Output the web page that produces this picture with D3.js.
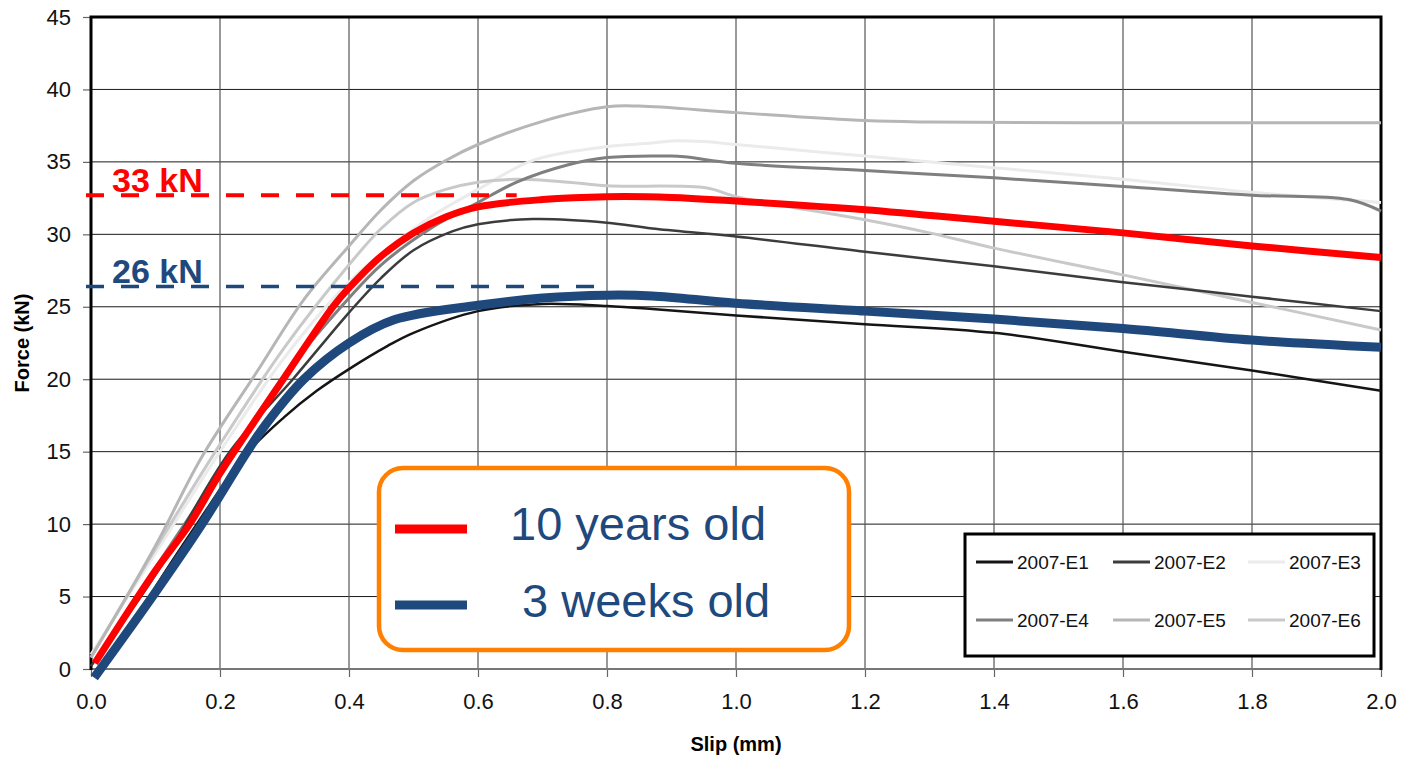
<!DOCTYPE html>
<html>
<head>
<meta charset="utf-8">
<script src="https://cdnjs.cloudflare.com/ajax/libs/d3/7.8.5/d3.min.js"></script>
<style>
body { margin: 0; background: #fff; }
text { font-family: Arial, "Liberation Sans", sans-serif; }
</style>
</head>
<body>
<div id="chart"></div>
<script>
// test curves, [slip mm, force kN]
var e1 = [[0.068,3.0],[0.091,5],[0.164,10],[0.24,14.8],[0.3,17.4],[0.35,19.2],[0.4,20.7],[0.46,22.3],[0.5,23.2],[0.6,24.7],[0.7,25.2],[0.8,25.05],[0.87,24.85],[1.0,24.4],[1.2,23.8],[1.4,23.2],[1.6,21.9],[1.8,20.6],[2.0,19.2]];
var e2 = [[0.0,0.2],[0.1,6.5],[0.215,15],[0.313,20],[0.4,24.6],[0.45,27.0],[0.5,28.9],[0.56,30.2],[0.6,30.7],[0.685,31.05],[0.8,30.8],[0.87,30.4],[1.0,29.85],[1.2,28.8],[1.4,27.8],[1.6,26.7],[1.8,25.7],[2.0,24.7]];
var e3 = [[0.0,1.0],[0.1,8.0],[0.2,15.0],[0.3,21.5],[0.4,26.7],[0.46,29.0],[0.53,31.3],[0.6,33.1],[0.685,35.1],[0.79,36.0],[0.87,36.3],[0.9,36.45],[0.95,36.4],[1.0,36.2],[1.2,35.4],[1.4,34.6],[1.6,33.8],[1.8,32.9],[2.0,32.2]];
var e4 = [[0.005,0.5],[0.1,7],[0.16,11],[0.2,13.6],[0.3,20.3],[0.4,25.6],[0.45,27.9],[0.53,30.5],[0.6,32.2],[0.66,33.6],[0.74,34.8],[0.8,35.3],[0.9,35.4],[0.92,35.35],[1.0,34.9],[1.2,34.4],[1.4,33.9],[1.6,33.3],[1.8,32.7],[1.95,32.4],[2.0,31.6]];
var e5 = [[0.0,0.8],[0.1,8.5],[0.17,14.5],[0.257,20.5],[0.33,25.5],[0.4,29.2],[0.45,31.7],[0.5,33.7],[0.55,35.1],[0.6,36.2],[0.7,37.8],[0.8,38.8],[0.85,38.85],[1.0,38.4],[1.2,37.85],[1.3,37.75],[1.6,37.7],[2.0,37.7]];
var e6 = [[0.0,0.8],[0.1,8.3],[0.2,15.5],[0.3,22.2],[0.4,27.9],[0.45,30.4],[0.5,32.2],[0.55,33.1],[0.6,33.6],[0.66,33.8],[0.74,33.6],[0.8,33.35],[0.955,33.2],[1.0,32.6],[1.2,31.0],[1.3,30.1],[1.4,29.05],[1.6,27.2],[1.8,25.3],[2.0,23.4]];

// mean curves
var tenYears = [[0.006,0.4],[0.1,6.8],[0.153,10],[0.2,13.5],[0.298,20],[0.375,25],[0.4,26.3],[0.45,28.5],[0.5,30.1],[0.55,31.2],[0.6,31.9],[0.7,32.4],[0.8,32.6],[0.9,32.55],[1.0,32.3],[1.2,31.7],[1.4,30.9],[1.6,30.1],[1.8,29.2],[2.0,28.4]];
var threeWeeks = [[0.005,-0.6],[0.1,5.3],[0.172,10],[0.242,15],[0.273,17.0],[0.33,20],[0.4,22.5],[0.47,24.1],[0.6,25.1],[0.7,25.6],[0.8,25.8],[0.87,25.75],[1.0,25.25],[1.2,24.7],[1.4,24.15],[1.6,23.5],[1.8,22.7],[2.0,22.2]];

var peakLabels = ['33 kN', '26 kN'];
var peakValues = [32.7, 26.4];
var peakEnds = [0.66, 0.78];

var grayNames = ['2007-E1', '2007-E2', '2007-E3', '2007-E4', '2007-E5', '2007-E6'];
var grayColors = ['#151515', '#3c3c3c', '#ebebeb', '#7f7f7f', '#b6b6b6', '#c9c9c9'];
var grayWidths = [2.5, 2.5, 3, 3, 3, 3];

var xTicks = [0, 0.2, 0.4, 0.6, 0.8, 1.0, 1.2, 1.4, 1.6, 1.8, 2.0];
var yTicks = [0, 5, 10, 15, 20, 25, 30, 35, 40, 45];

var svg = d3.select('#chart')
    .append('svg')
    .attr('width', 1401)
    .attr('height', 757);

var x = d3.scaleLinear().domain([0, 2]).range([91, 1381]);
var y = d3.scaleLinear().domain([0, 45]).range([669, 17]);

// grid
svg.selectAll('.hgrid')
    .data(yTicks.slice(1, -1))
    .enter()
    .append('line')
    .attr('x1', 91).attr('x2', 1381)
    .attr('y1', function(d) { return y(d); })
    .attr('y2', function(d) { return y(d); })
    .style('stroke', '#1a1a1a')
    .style('stroke-width', 1);

svg.selectAll('.vgrid')
    .data(xTicks.slice(1, -1))
    .enter()
    .append('line')
    .attr('y1', 17).attr('y2', 669)
    .attr('x1', function(d) { return x(d); })
    .attr('x2', function(d) { return x(d); })
    .style('stroke', '#555')
    .style('stroke-width', 1.2);

// axes
var yAxis = d3.axisLeft(y).tickValues(yTicks).tickSize(8).tickPadding(12).tickFormat(d3.format('d'));
var xAxis = d3.axisBottom(x).tickValues(xTicks).tickSize(8).tickPadding(16).tickFormat(d3.format('.1f'));

var gy = svg.append('g').attr('transform', 'translate(91,0)').call(yAxis);
var gx = svg.append('g').attr('transform', 'translate(0,669)').call(xAxis);
[gx, gy].forEach(function(g) {
    g.select('.domain').remove();
    g.selectAll('.tick line').style('stroke', '#666').style('stroke-width', 1.2);
    g.selectAll('.tick text')
        .style('font-size', '22px')
        .style('fill', '#111')
        .style('font-family', 'Arial, "Liberation Sans", sans-serif');
});

// frame
svg.append('line').attr('x1', 91).attr('x2', 1381).attr('y1', 669).attr('y2', 669)
    .style('stroke', '#777').style('stroke-width', 2);
svg.append('path')
    .attr('d', 'M91,670 L91,17 L1381,17 L1381,670')
    .style('fill', 'none')
    .style('stroke', '#000')
    .style('stroke-width', 3);

// curves
var line = d3.line()
    .x(function(d) { return x(d[0]); })
    .y(function(d) { return y(d[1]); })
    .curve(d3.curveCatmullRom.alpha(0.5));

var grayData = [e1, e2, e3, e4, e5, e6];
var drawOrder = [2, 5, 4, 3, 1, 0];
drawOrder.forEach(function(i) {
    svg.append('path')
        .attr('d', line(grayData[i]))
        .style('fill', 'none')
        .style('stroke', grayColors[i])
        .style('stroke-width', grayWidths[i]);
});

// peak lines
var peakColors = ['#ff0000', '#1f497d'];
peakValues.forEach(function(v, i) {
    svg.append('line')
        .attr('x1', x(0) - 5).attr('x2', x(peakEnds[i]))
        .attr('y1', y(v)).attr('y2', y(v))
        .style('stroke', peakColors[i])
        .style('stroke-width', i == 0 ? 4 : 3.5)
        .style('stroke-dasharray', '18,17');
});

svg.append('path')
    .attr('d', line(tenYears))
    .style('fill', 'none')
    .style('stroke', '#ff0000')
    .style('stroke-width', 7);

svg.append('path')
    .attr('d', line(threeWeeks))
    .style('fill', 'none')
    .style('stroke', '#1f497d')
    .style('stroke-width', 9);

peakLabels.forEach(function(t, i) {
    svg.append('text')
        .attr('x', 112)
        .attr('y', y(peakValues[i]) - 3)
        .style('font-size', '34px')
        .style('font-weight', 'bold')
        .style('fill', peakColors[i])
        .text(t);
});

// axis titles
svg.append('text')
    .attr('transform', 'translate(29,343) rotate(-90)')
    .attr('text-anchor', 'middle')
    .style('font-size', '20px')
    .style('font-weight', 'bold')
    .text('Force (kN)');

svg.append('text')
    .attr('x', 736).attr('y', 751)
    .attr('text-anchor', 'middle')
    .style('font-size', '20px')
    .style('font-weight', 'bold')
    .text('Slip (mm)');

// legend of test curves
var leg = svg.append('g');
leg.append('rect')
    .attr('x', 965).attr('y', 534)
    .attr('width', 409).attr('height', 122)
    .style('fill', '#fff')
    .style('stroke', '#000')
    .style('stroke-width', 3);

var legX = [976, 1113, 1248];
var legY = [562, 620];
grayNames.forEach(function(name, i) {
    var lx = legX[i % 3];
    var ly = legY[Math.floor(i / 3)];
    leg.append('line')
        .attr('x1', lx).attr('x2', lx + 37)
        .attr('y1', ly).attr('y2', ly)
        .style('stroke', grayColors[i])
        .style('stroke-width', 3);
    leg.append('text')
        .attr('x', lx + 41).attr('y', ly + 7)
        .style('font-size', '19px')
        .style('fill', '#111')
        .text(name);
});

// age legend
var ageNames = ['10 years old', '3 weeks old'];
var ageColors = ['#ff0000', '#1f497d'];
var ageY = [529, 605];
var ageTextX = [510, 522];
var box = svg.append('g');
box.append('rect')
    .attr('x', 379).attr('y', 468)
    .attr('width', 470).attr('height', 182)
    .attr('rx', 24).attr('ry', 24)
    .style('fill', '#fff')
    .style('stroke', '#ff7f00')
    .style('stroke-width', 4.5);

ageNames.forEach(function(name, i) {
    box.append('line')
        .attr('x1', 395).attr('x2', 467)
        .attr('y1', ageY[i]).attr('y2', ageY[i])
        .style('stroke', ageColors[i])
        .style('stroke-width', 9);
    box.append('text')
        .attr('x', ageTextX[i]).attr('y', ageY[i] + 11 + i * 1)
        .style('font-size', '47px')
        .style('fill', '#1f497d')
        .text(name);
});
</script>
</body>
</html>
